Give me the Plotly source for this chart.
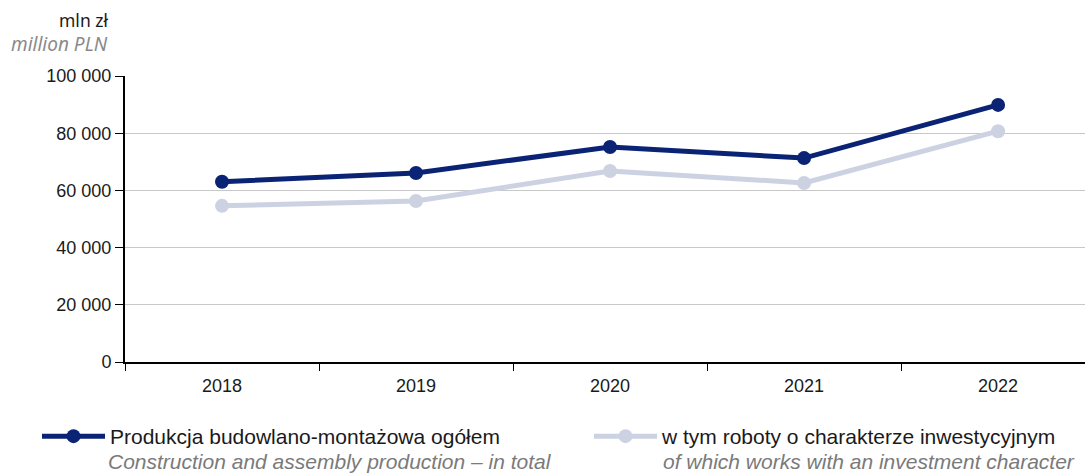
import plotly.graph_objects as go

years = ["2018", "2019", "2020", "2021", "2022"]
total = [63000, 66100, 75200, 71300, 89900]
investment = [54600, 56300, 66800, 62600, 80700]
yticks = [0, 20000, 40000, 60000, 80000, 100000]
ytick_labels = ["0", "20 000", "40 000", "60 000", "80 000", "100 000"]

name_total = "Produkcja budowlano-montażowa ogółem"
name_total_en = "Construction and assembly production – in total"
name_inv = "w tym roboty o charakterze inwestycyjnym"
name_inv_en = "of which works with an investment character"

DARK = "#0a2375"
LIGHT = "#cdd2e3"
FONT = "Liberation Sans, Arial, sans-serif"

fig = go.Figure()
fig.add_trace(go.Scatter(x=years, y=total, mode="lines+markers", name=name_total,
                         line=dict(color=DARK, width=5),
                         marker=dict(size=14, color=DARK), legend="legend"))
fig.add_trace(go.Scatter(x=years, y=investment, mode="lines+markers", name=name_inv,
                         line=dict(color=LIGHT, width=5),
                         marker=dict(size=14, color=LIGHT), legend="legend2"))

leg_common = dict(orientation="h", xanchor="left", yanchor="top", valign="middle",
                  itemwidth=63, bgcolor="rgba(0,0,0,0)",
                  font=dict(size=21, color="#1a1a1a", family=FONT),
                  itemclick=False, itemdoubleclick=False)

fig.update_layout(
    width=1085, height=473,
    margin=dict(l=125, r=0, t=76, b=111, autoexpand=False),
    plot_bgcolor="white", paper_bgcolor="white",
    font=dict(family=FONT, size=18, color="#1a1a1a"),
    legend=dict(x=(37 - 125) / 960, y=(362 - 416) / 286, **leg_common),
    legend2=dict(x=(589 - 125) / 960, y=(362 - 416) / 286, **leg_common),
    showlegend=True,
    annotations=[
        dict(text="mln zł", xref="paper", yref="paper", x=(110 - 125) / 960,
             y=(362 - 20) / 286, xanchor="right", yanchor="middle", showarrow=False,
             font=dict(family="Noto Sans, sans-serif", size=17.5, color="#1a1a1a")),
        dict(text="<i>million PLN</i>", xref="paper", yref="paper", x=(110 - 125) / 960,
             y=(362 - 44) / 286, xanchor="right", yanchor="middle", showarrow=False,
             font=dict(family="Noto Sans, sans-serif", size=19, color="#8a8a8a")),
        dict(text="<i>" + name_total_en + "</i>", xref="paper", yref="paper",
             x=(106 - 125) / 960, y=(362 - 461) / 286, xanchor="left", yanchor="middle",
             showarrow=False, font=dict(family=FONT, size=21, color="#7a7a7a")),
        dict(text="<i>" + name_inv_en + "</i>", xref="paper", yref="paper",
             x=(661 - 125) / 960, y=(362 - 461) / 286, xanchor="left", yanchor="middle",
             showarrow=False, font=dict(family=FONT, size=21, color="#7a7a7a")),
    ],
)
fig.update_xaxes(type="category", range=[-0.5, 4.448], showline=True, linecolor="black",
                 linewidth=2, ticks="outside", tickson="boundaries", ticklen=7,
                 tickcolor="black", tickwidth=1, showgrid=False, ticklabelstandoff=6,
                 tickfont=dict(size=18, color="#1a1a1a"))
fig.update_yaxes(range=[0, 100000], tickvals=yticks, ticktext=ytick_labels,
                 showline=True, linecolor="black", linewidth=2, ticks="outside",
                 ticklen=8, tickcolor="black", showgrid=True, gridcolor="#c8c8c8",
                 gridwidth=1, zeroline=False, tickfont=dict(size=18, color="#1a1a1a"))

fig.write_html("out.html", config={"displayModeBar": False},
               post_script="document.body.style.margin='0';")
